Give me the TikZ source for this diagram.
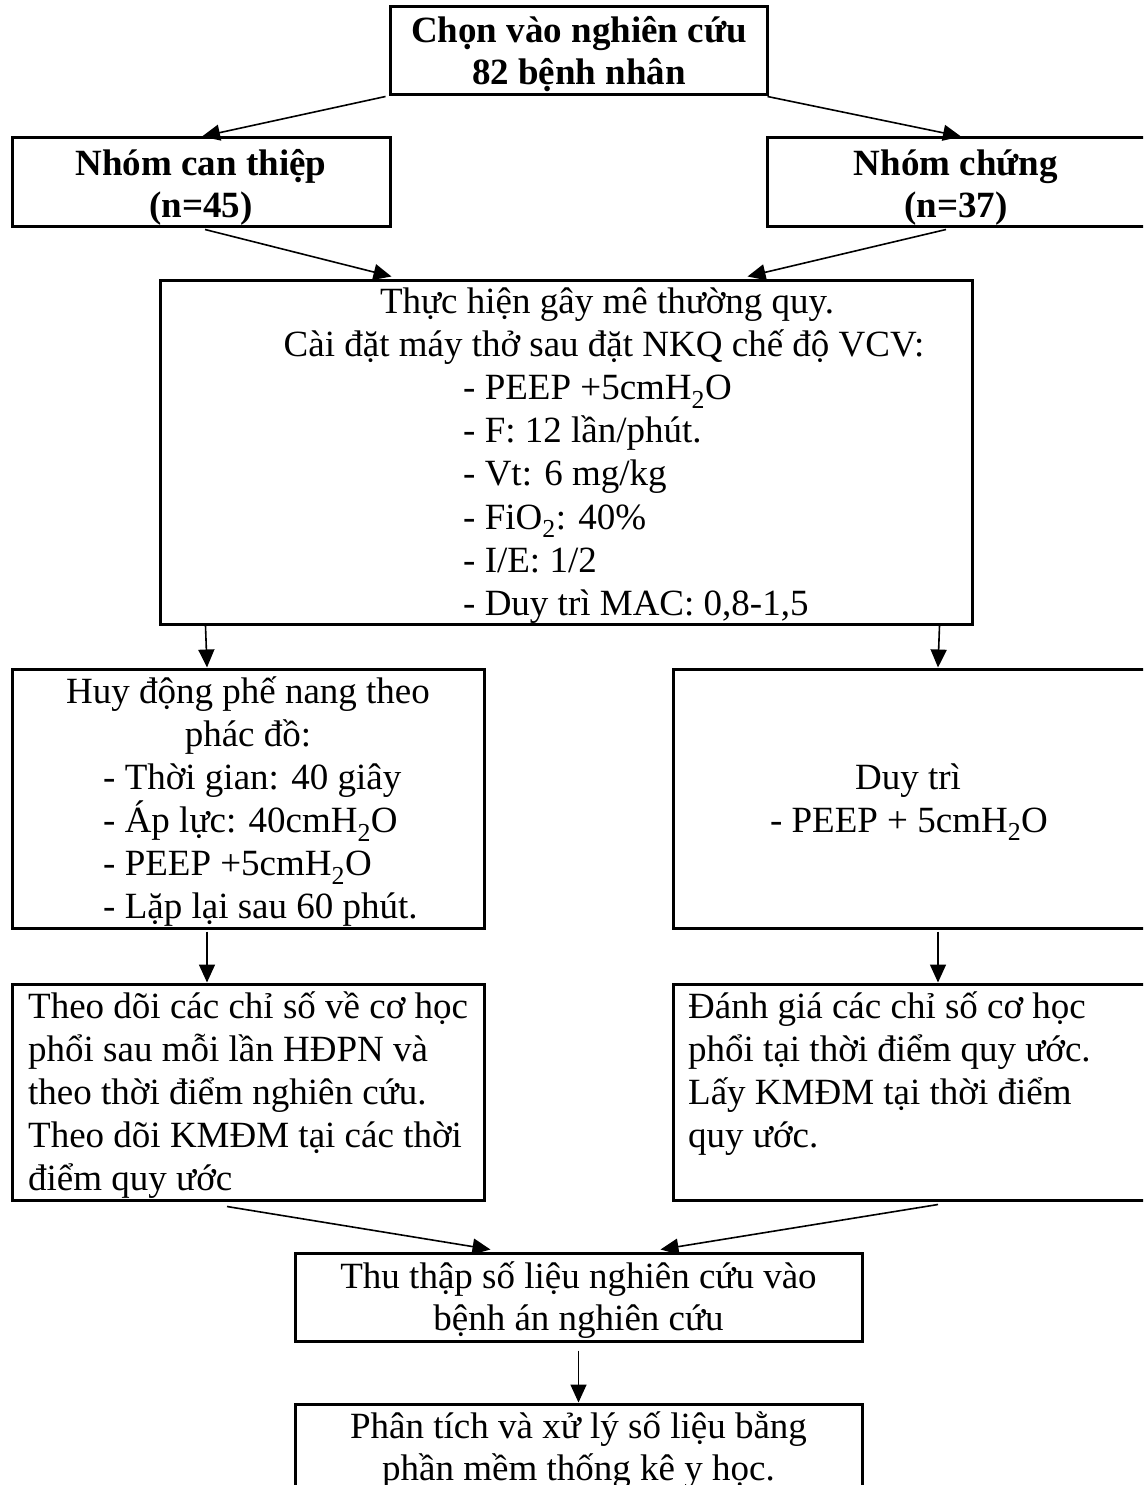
\documentclass[tikz,border=0pt]{standalone}
\usepackage{fontspec}
\setmainfont{Liberation Serif}
\usetikzlibrary{arrows.meta}
\newcommand{\mytc}[4]{\node[txt,anchor=base] (#1) at (#2,#3) {#4};}
\newcommand{\mytl}[4]{\node[txt,anchor=base west] (#1) at (#2,#3) {#4};}
\begin{document}
\begin{tikzpicture}[x=1pt,y=-1pt,
  box/.style={draw,line width=3pt,rectangle,inner sep=0pt},
  conn/.style={line width=1.6pt,-{Triangle[length=18pt,width=16pt]}},
  txt/.style={inner sep=0pt,font=\fontsize{37pt}{43pt}\selectfont}]
\fill[white] (0,0) rectangle (1143,1485);
\useasboundingbox (0,0) rectangle (1143,1485);
\clip (0,0) rectangle (1143,1485);

% boxes
\node[box,minimum width=377pt,minimum height=88pt] (top) at (578.5,51) {};
\node[box,minimum width=378pt,minimum height=88pt] (nci) at (201,182) {};
\node[box,minimum width=378pt,minimum height=88pt] (nch) at (956,182) {};
\node[box,minimum width=812pt,minimum height=344pt] (big) at (566,452) {};
\node[box,minimum width=472pt,minimum height=259pt] (huy) at (248,798.5) {};
\node[box,minimum width=472pt,minimum height=259pt] (duy) at (909,798.5) {};
\node[box,minimum width=472pt,minimum height=216pt] (theo) at (248,1092) {};
\node[box,minimum width=472pt,minimum height=216pt] (danh) at (909,1092) {};
\node[box,minimum width=567pt,minimum height=88pt] (thu) at (578.5,1297) {};
\node[box,minimum width=567pt,minimum height=88pt] (phan) at (578.5,1448) {};

% texts
\mytc{a1}{579}{43}{\bfseries Chọn vào nghiên cứu}
\mytc{a2}{579}{85}{\bfseries 82 bệnh nhân}
\mytc{b1}{201}{175}{\bfseries Nhóm can thiệp}
\mytc{b2}{201}{217}{\bfseries (n=45)}
\mytc{c1}{956}{175}{\bfseries Nhóm chứng}
\mytc{c2}{956}{217}{\bfseries (n=37)}

\mytc{d1}{607}{313}{Thực hiện gây mê thường quy.}
\mytc{d2}{604}{356}{Cài đặt máy thở sau đặt NKQ chế độ VCV:}
\mytl{d3}{463}{399.5}{- PEEP +5cmH\textsubscript{2}O}
\mytl{d4}{463}{442.7}{- F: 12 lần/phút.}
\mytl{d5}{463}{485.9}{- Vt: 6 mg/kg}
\mytl{d6}{463}{529.1}{- FiO\textsubscript{2}: 40\%}
\mytl{d7}{463}{572.3}{- I/E: 1/2}
\mytl{d8}{463}{615.5}{- Duy trì MAC: 0,8-1,5}

\mytc{e1}{248}{703}{Huy động phế nang theo}
\mytc{e2}{248}{746}{phác đồ:}
\mytl{e3}{103}{789.5}{- Thời gian: 40 giây}
\mytl{e4}{103}{832.5}{- Áp lực: 40cmH\textsubscript{2}O}
\mytl{e5}{103}{875.5}{- PEEP +5cmH\textsubscript{2}O}
\mytl{e6}{103}{918.5}{- Lặp lại sau 60 phút.}

\mytc{f1}{908}{789}{Duy trì}
\mytc{f2}{909}{832}{- PEEP + 5cmH\textsubscript{2}O}

\mytl{g1}{28}{1018}{Theo dõi các chỉ số về cơ học}
\mytl{g2}{28}{1061}{phổi sau mỗi lần HĐPN và}
\mytl{g3}{28}{1104}{theo thời điểm nghiên cứu.}
\mytl{g4}{28}{1147}{Theo dõi KMĐM tại các thời}
\mytl{g5}{28}{1190}{điểm quy ước}

\mytl{h1}{688}{1018}{Đánh giá các chỉ số cơ học}
\mytl{h2}{688}{1061}{phổi tại thời điểm quy ước.}
\mytl{h3}{688}{1104}{Lấy KMĐM tại thời điểm}
\mytl{h4}{688}{1147}{quy ước.}

\mytc{i1}{578.5}{1288}{Thu thập số liệu nghiên cứu vào}
\mytc{i2}{578.5}{1330}{bệnh án nghiên cứu}
\mytc{j1}{578.5}{1438}{Phân tích và xử lý số liệu bằng}
\mytc{j2}{578.5}{1480}{phần mềm thống kê y học.}

% connectors
\draw[conn] ([xshift=-3pt]top.south west) -- ([xshift=1pt]nci.north);
\draw[conn] ([xshift=-1pt]top.south east) -- ([xshift=5pt]nch.north);
\draw[conn] ([xshift=4pt,yshift=-2pt]nci.south) -- ([xshift=233pt,yshift=2pt]big.north west);
\draw[conn] ([xshift=-10pt,yshift=-2pt]nch.south) -- ([xshift=-226pt,yshift=2pt]big.north east);
\draw[conn] ([xshift=47pt]big.south west) -- ([xshift=-41pt]huy.north);
\draw[conn] ([xshift=-34pt]big.south east) -- ([xshift=29pt]duy.north);
\draw[conn] ([xshift=-41pt,yshift=-2pt]huy.south) -- ([xshift=-41pt]theo.north);
\draw[conn] ([xshift=29pt,yshift=-2pt]duy.south) -- ([xshift=29pt]danh.north);
\draw[conn] ([xshift=-21pt,yshift=-5pt]theo.south) -- ([xshift=197pt,yshift=2pt]thu.north west);
\draw[conn] ([xshift=29pt,yshift=-3pt]danh.south) -- ([xshift=-203pt,yshift=2pt]thu.north east);
\draw[conn] ([yshift=-8pt]thu.south) -- (phan.north);
\end{tikzpicture}
\end{document}
